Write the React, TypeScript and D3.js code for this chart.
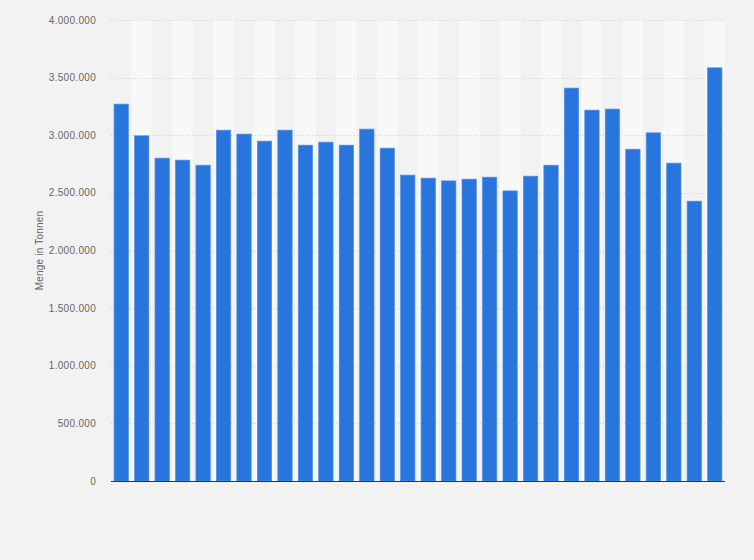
import { useEffect, useRef } from 'react';
import * as d3 from 'd3';

// one value per bar (tonnes)
const categories = [
  'b1', 'b2', 'b3', 'b4', 'b5', 'b6', 'b7', 'b8', 'b9', 'b10',
  'b11', 'b12', 'b13', 'b14', 'b15', 'b16', 'b17', 'b18', 'b19', 'b20',
  'b21', 'b22', 'b23', 'b24', 'b25', 'b26', 'b27', 'b28', 'b29', 'b30',
];
const values = [
  3270000, 2995000, 2801000, 2784000, 2740000, 3044000, 3010000, 2949000, 3044000, 2914000,
  2940000, 2914000, 3053000, 2888000, 2654000, 2628000, 2604000, 2619000, 2636000, 2517000,
  2645000, 2740000, 3409000, 3218000, 3227000, 2879000, 3021000, 2758000, 2428000, 3585000,
];
const yTicks = [0, 500000, 1000000, 1500000, 2000000, 2500000, 3000000, 3500000, 4000000];
const yLabel = 'Menge in Tonnen';

const W = 754;
const H = 560;
const MARGIN = { top: 20, right: 29, bottom: 79, left: 111 };
const BAR_COLOR = '#2876dd';
const FONT = '"Liberation Sans", Arial, sans-serif';

const fmt = (v: number) => d3.format(',')(v).replace(/,/g, '.');

export default function App() {
  const svgRef = useRef<SVGSVGElement>(null);

  useEffect(() => {
    if (!svgRef.current) return;
    const svg = d3.select(svgRef.current);
    svg.selectAll('*').remove();

    const innerW = W - MARGIN.left - MARGIN.right;
    const innerH = H - MARGIN.top - MARGIN.bottom;

    const x = d3.scaleBand<string>().domain(categories).range([0, innerW]).paddingInner(0.3).paddingOuter(0.15);
    const stripe = d3.scaleBand<string>().domain(categories).range([0, innerW]);
    const y = d3.scaleLinear().domain([0, 4000000]).range([innerH, 0]);

    svg.append('rect').attr('width', W).attr('height', H).attr('fill', '#f2f2f2');
    svg.append('rect').attr('y', 512).attr('width', W).attr('height', H - 512).attr('fill', '#f3f3f3');

    const g = svg.append('g').attr('transform', `translate(${MARGIN.left},${MARGIN.top})`);

    // alternating column stripes
    g.selectAll('rect.stripe')
      .data(categories.filter((_, i) => i % 2 === 1))
      .join('rect')
      .attr('class', 'stripe')
      .attr('x', d => stripe(d)!)
      .attr('y', 0)
      .attr('width', stripe.bandwidth())
      .attr('height', innerH)
      .attr('fill', '#f8f8f8');

    // gridlines
    g.selectAll('line.grid')
      .data(yTicks.filter(t => t > 0))
      .join('line')
      .attr('class', 'grid')
      .attr('x1', 0).attr('x2', innerW)
      .attr('y1', d => Math.round(y(d)) + 0.5).attr('y2', d => Math.round(y(d)) + 0.5)
      .attr('stroke', '#cfcfcf')
      .attr('stroke-dasharray', '1,2');

    // tick labels
    g.selectAll('text.tick')
      .data(yTicks)
      .join('text')
      .attr('class', 'tick')
      .attr('x', -15)
      .attr('y', d => y(d))
      .attr('dy', '0.35em')
      .attr('text-anchor', 'end')
      .attr('fill', '#666')
      .style('font-family', FONT)
      .style('font-size', '10px')
      .style('letter-spacing', '0.3px')
      .text(d => fmt(d));

    // bars
    g.selectAll('rect.bar')
      .data(values)
      .join('rect')
      .attr('class', 'bar')
      .attr('x', (_, i) => x(categories[i])!)
      .attr('y', d => y(d))
      .attr('width', x.bandwidth())
      .attr('height', d => innerH - y(d))
      .attr('fill', BAR_COLOR)
      .attr('stroke', '#4f8fe4')
      .attr('stroke-width', 0.7);

    // baseline
    g.append('line')
      .attr('x1', 0).attr('x2', innerW)
      .attr('y1', innerH + 0.5).attr('y2', innerH + 0.5)
      .attr('stroke', '#333')
      .attr('stroke-width', 1.2);

    // y axis title
    svg.append('text')
      .attr('transform', `translate(43,${MARGIN.top + innerH / 2}) rotate(-90)`)
      .attr('text-anchor', 'middle')
      .attr('fill', '#666')
      .style('font-family', FONT)
      .style('font-size', '10px')
      .style('letter-spacing', '0.2px')
      .text(yLabel);
  }, []);

  return (
    <div style={{ position: 'absolute', top: 0, left: 0 }}>
      <svg ref={svgRef} width={W} height={H} style={{ display: 'block' }} />
    </div>
  );
}
